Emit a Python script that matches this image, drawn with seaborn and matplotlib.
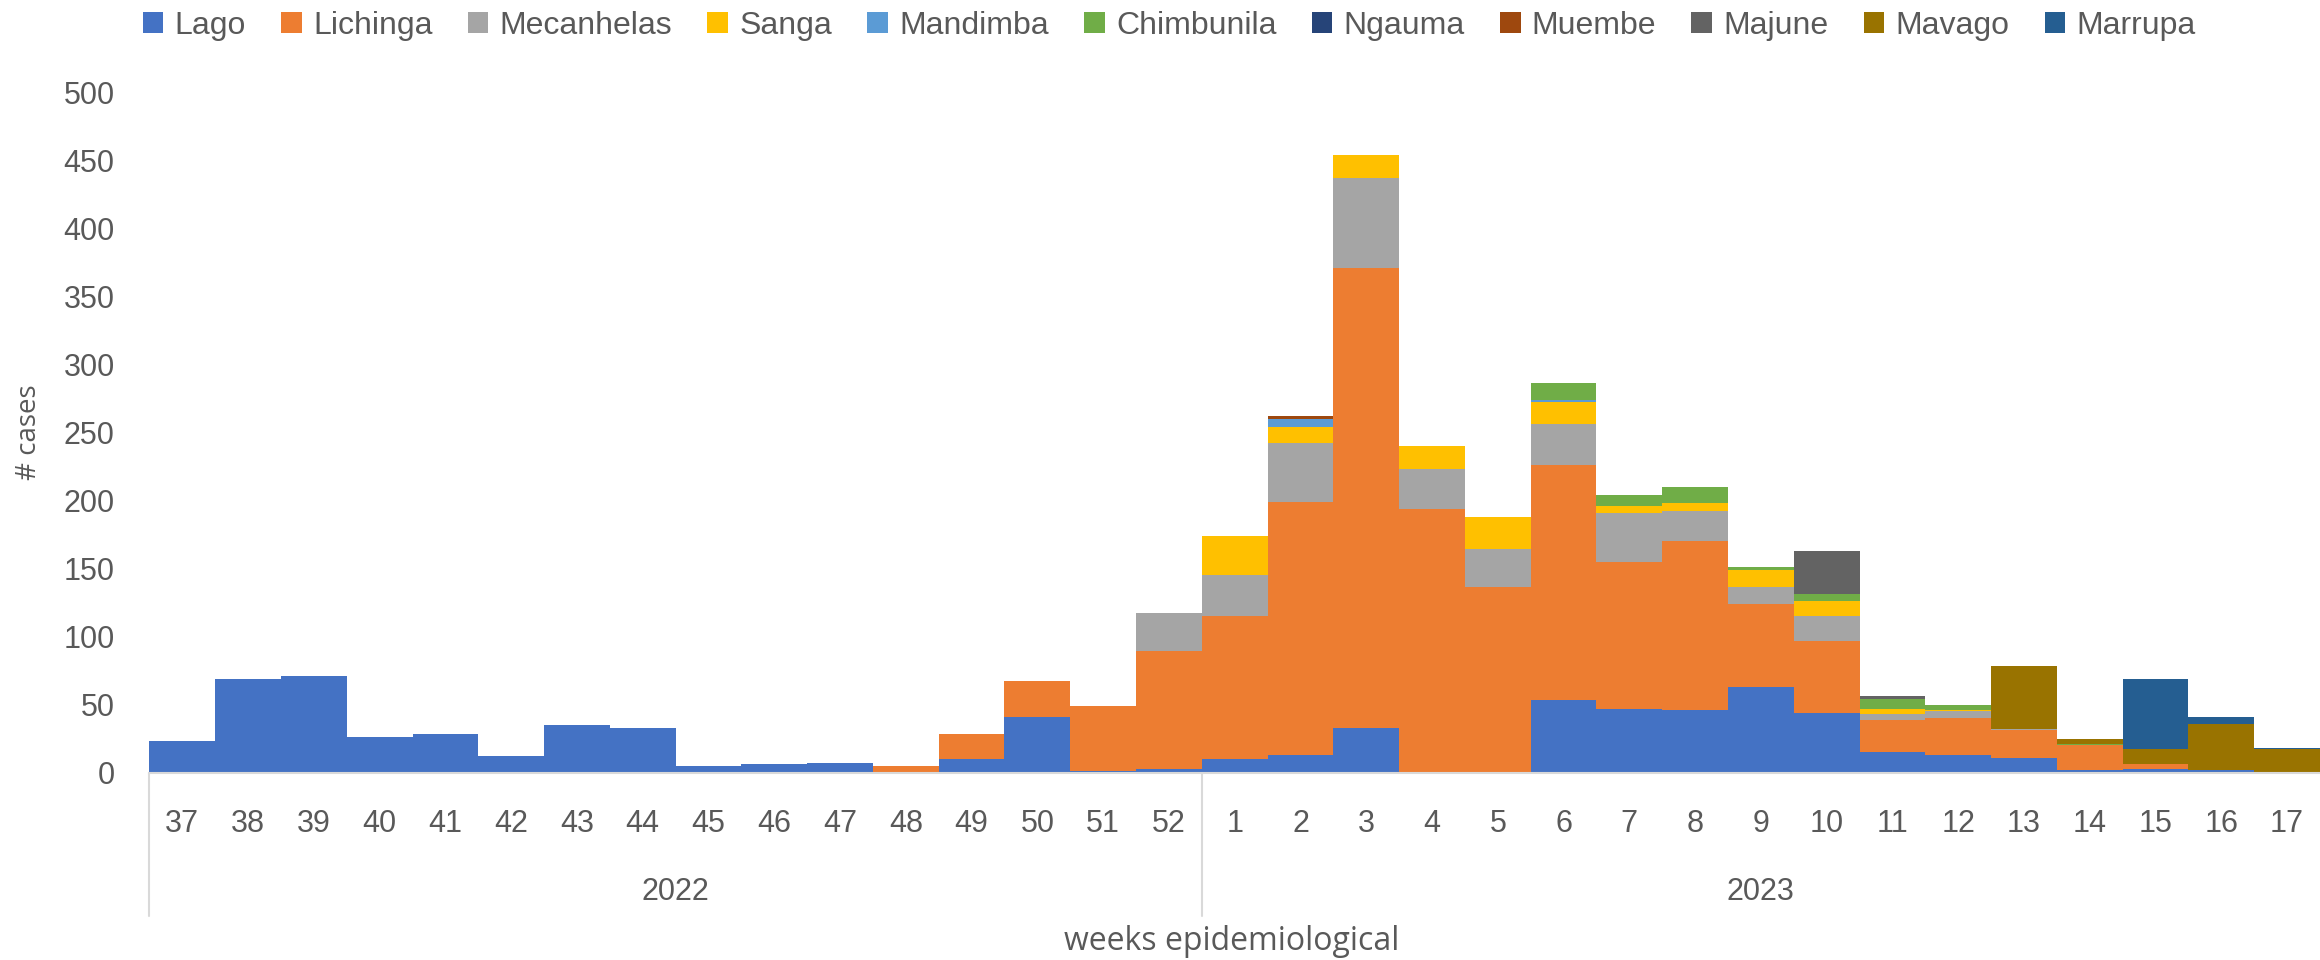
"""
Stacked weekly case counts per district, epi weeks 37/2022 - 17/2023
"""

import numpy as np
import pandas as pd
import matplotlib
matplotlib.use("Agg")
import matplotlib.pyplot as plt
import matplotlib.transforms as mtransforms
from matplotlib.patches import Patch
import seaborn as sns

# 周标签 (2022: 37-52, 2023: 1-17)
weeks = [str(w) for w in range(37, 53)] + [str(w) for w in range(1, 18)]
years = ['2022', '2023']

districts = ['Lago', 'Lichinga', 'Mecanhelas', 'Sanga', 'Mandimba', 'Chimbunila',
             'Ngauma', 'Muembe', 'Majune', 'Mavago', 'Marrupa']
colors = ['#4472C4', '#ED7D31', '#A5A5A5', '#FFC000', '#5B9BD5', '#70AD47',
          '#264478', '#9E480E', '#636363', '#997300', '#255E91']

#            37  38  39  40  41  42  43  44 45 46 47 48  49  50  51  52 |  1   2    3    4    5    6    7    8   9  10  11  12  13  14 15 16 17
lago       = [23, 69, 71, 26, 28, 12, 35, 33, 5, 6, 7, 0, 10, 41,  1,  3,  10,  13,  33,   0,   0,  53,  47,  46, 63, 44, 15, 13, 11,  2, 3, 2, 0]
lichinga   = [0,  0,  0,  0,  0,  0,  0,  0, 0, 0, 0, 5, 18, 26, 48, 86, 105, 186, 338, 194, 136, 173, 108, 124, 61, 53, 24, 27, 20, 18, 3, 0, 0]
mecanhelas = [0,  0,  0,  0,  0,  0,  0,  0, 0, 0, 0, 0,  0,  0,  0, 28,  30,  43,  66,  29,  28,  30,  36,  22, 12, 18,  4,  5,  1,  0, 0, 0, 0]
sanga      = [0,  0,  0,  0,  0,  0,  0,  0, 0, 0, 0, 0,  0,  0,  0,  0,  29,  12,  17,  17,  24,  16,   5,   6, 13, 11,  4,  1,  0,  0, 0, 0, 0]
mandimba   = [0,  0,  0,  0,  0,  0,  0,  0, 0, 0, 0, 0,  0,  0,  0,  0,   0,   6,   0,   0,   0,   2,   0,   0,  0,  0,  0,  0,  0,  0, 0, 0, 0]
chimbunila = [0,  0,  0,  0,  0,  0,  0,  0, 0, 0, 0, 0,  0,  0,  0,  0,   0,   0,   0,   0,   0,  12,   8,  12,  2,  5,  7,  4,  0,  1, 0, 0, 0]
ngauma     = [0,  0,  0,  0,  0,  0,  0,  0, 0, 0, 0, 0,  0,  0,  0,  0,   0,   0,   0,   0,   0,   0,   0,   0,  0,  0,  0,  0,  0,  0, 0, 0, 0]
muembe     = [0,  0,  0,  0,  0,  0,  0,  0, 0, 0, 0, 0,  0,  0,  0,  0,   0,   2,   0,   0,   0,   0,   0,   0,  0,  0,  0,  0,  0,  0, 0, 0, 0]
majune     = [0,  0,  0,  0,  0,  0,  0,  0, 0, 0, 0, 0,  0,  0,  0,  0,   0,   0,   0,   0,   0,   0,   0,   0,  0, 32,  2,  0,  0,  0, 0, 0, 0]
mavago     = [0,  0,  0,  0,  0,  0,  0,  0, 0, 0, 0, 0,  0,  0,  0,  0,   0,   0,   0,   0,   0,   0,   0,   0,  0,  0,  0,  0, 46,  4, 11, 34, 17]
marrupa    = [0,  0,  0,  0,  0,  0,  0,  0, 0, 0, 0, 0,  0,  0,  0,  0,   0,   0,   0,   0,   0,   0,   0,   0,  0,  0,  0,  0,  0,  0, 52, 5, 1]

series = [lago, lichinga, mecanhelas, sanga, mandimba, chimbunila,
          ngauma, muembe, majune, mavago, marrupa]

TEXT = '#595959'


def build_frame():
    """长表: 每周每区一行"""
    rows = []
    for name, vals in zip(districts, series):
        for i, v in enumerate(vals):
            rows.append({'pos': i, 'district': name, 'cases': v})
    return pd.DataFrame(rows)


def main():
    sns.set_theme(style='white')
    plt.rcParams['font.family'] = ['Liberation Sans', 'DejaVu Sans']

    df = build_frame()
    fig = plt.figure(figsize=(23.2, 9.6), dpi=100)
    # 图区一直延伸到右边缘 (最后一根柱子被裁切)
    ax = fig.add_axes([149.4 / 2320, 1 - 772.6 / 960, (2320 - 149.4) / 2320, (772.6 - 92) / 960])

    # seaborn 的 stack 会把 hue_order 最后一个放在最底下
    sns.histplot(data=df, x='pos', weights='cases', hue='district',
                 hue_order=districts[::-1], palette=dict(zip(districts, colors)),
                 multiple='stack', discrete=True, shrink=1, alpha=1,
                 linewidth=0, legend=False, ax=ax)

    ax.set_xlim(-0.5, len(weeks) - 0.5)
    ax.set_ylim(0, 500)
    ax.set_yticks(np.arange(0, 501, 50))
    ax.set_xticks(range(len(weeks)))
    ax.set_xticklabels(weeks)
    ax.tick_params(axis='both', length=0, labelsize=22, colors=TEXT)
    ax.tick_params(axis='x', pad=26)
    ax.tick_params(axis='y', pad=25)
    ax.set_xlabel('')
    ax.set_ylabel('')
    for s in ['left', 'top', 'right']:
        ax.spines[s].set_visible(False)
    ax.spines['bottom'].set_color('#d9d9d9')
    ax.spines['bottom'].set_linewidth(1.5)

    # 两级分类轴: 年份 + 分隔线
    trans = mtransforms.blended_transform_factory(ax.transData, ax.transAxes)
    h = 772.6 - 92
    for xs in [-0.5, 15.5]:
        ax.plot([xs, xs], [0, -(916 - 772.6) / h], transform=trans,
                color='#d9d9d9', lw=1.5, clip_on=False)
    ax.text(7.5, -(892 - 772.6) / h, years[0], transform=trans, ha='center',
            va='center', fontsize=22, color=TEXT)
    ax.text(24, -(892 - 772.6) / h, years[1], transform=trans, ha='center',
            va='center', fontsize=22, color=TEXT)

    fig.text(0.531, 1 - 941 / 960, 'weeks epidemiological', ha='center', va='center',
             fontsize=23, color=TEXT, family=['Open Sans', 'DejaVu Sans'])
    fig.text(0.0125, 1 - 432 / 960, '# cases', ha='center', va='center', rotation=90,
             fontsize=20, color=TEXT, family=['Open Sans', 'DejaVu Sans'])

    handles = [Patch(facecolor=c, edgecolor='none') for c in colors]
    fig.legend(handles, districts, loc='center', bbox_to_anchor=(0.504, 0.973),
               ncol=len(districts), frameon=False, fontsize=23, labelcolor=TEXT,
               handlelength=0.65, handleheight=0.65, handletextpad=0.35,
               columnspacing=1.1, borderaxespad=0)

    fig.savefig('out.png', dpi=100)


if __name__ == "__main__":
    main()
